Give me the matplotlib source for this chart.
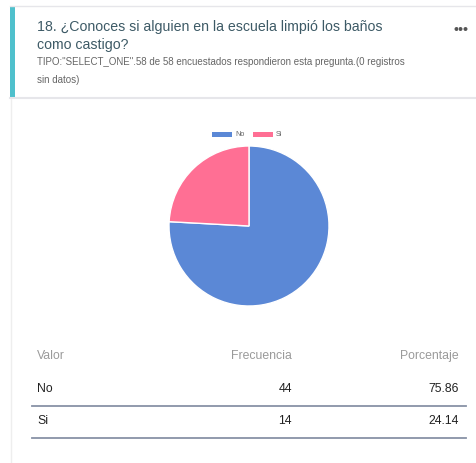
import matplotlib.pyplot as plt
from matplotlib.patches import Rectangle

# datos de la pregunta
labels = ['No', 'Si']
freq = [44, 14]
pct = ['75.86', '24.14']
colors = ['#5b88d6', '#ff6f94']

W, H = 476, 463
fig = plt.figure(figsize=(W / 100, H / 100), dpi=100)
plt.rcParams['font.family'] = ['Liberation Sans', 'DejaVu Sans']

# capa de fondo en pixeles
bg = fig.add_axes([0, 0, 1, 1])
bg.set_xlim(0, W)
bg.set_ylim(H, 0)
bg.axis('off')

# tarjeta del encabezado
bg.plot([10, W], [6, 6], color='#e6e6ea', lw=1)
bg.plot([10, W], [98, 98], color='#e6e6ea', lw=1.5)
bg.add_patch(Rectangle((10, 6), 4.5, 93, color='#4fc0cc', lw=0))
bg.plot([10.5, 10.5], [99, H], color='#eeeeee', lw=1)

bg.text(37, 27, '18. ¿Conoces si alguien en la escuela limpió los baños',
        fontsize=10.2, color='#3d5a66', va='center')
bg.text(37, 45, 'como castigo?', fontsize=10.2, color='#3d5a66', va='center')
bg.text(37, 62, 'TIPO:"SELECT_ONE".58 de 58 encuestados respondieron esta pregunta.(0 registros',
        fontsize=7.05, color='#666666', va='center')
bg.text(37, 80, 'sin datos)', fontsize=7.05, color='#666666', va='center')
bg.text(461, 30, '•••', fontsize=10, color='#555555', va='center', ha='center',
        fontweight='bold')

# leyenda
for i, (lab, c) in enumerate(zip(labels, colors)):
    x0 = 212 + i * 41
    bg.add_patch(Rectangle((x0, 131.5), 20, 5, color=c, lw=0))
    bg.text(x0 + 23, 134, lab, fontsize=5.2, color='#666666', va='center')

# tabla
bg.text(37, 356, 'Valor', fontsize=8.8, color='#9a9a9a', va='center')
bg.text(292, 356, 'Frecuencia', fontsize=8.8, color='#9a9a9a', va='center', ha='right')
bg.text(459, 356, 'Porcentaje', fontsize=8.8, color='#9a9a9a', va='center', ha='right')
rows_y = [389, 421]
for y, lab, f, p in zip(rows_y, labels, freq, pct):
    bg.text(37, y, lab, fontsize=8.8, color='#222222', va='center')
    bg.text(292, y, str(f), fontsize=8.8, color='#222222', va='center', ha='right')
    bg.text(459, y, p, fontsize=8.8, color='#222222', va='center', ha='right')
    bg.plot([32, 466], [y + 17, y + 17], color='#8892a6', lw=1.3)

# pastel
ax = fig.add_axes([169 / W, (H - 306) / H, 160 / W, 160 / H])
ax.pie(freq, colors=colors, startangle=90, counterclock=False,
       wedgeprops=dict(edgecolor='white', linewidth=1))
ax.set_xlim(-1, 1)
ax.set_ylim(-1, 1)
ax.set_aspect('equal')

fig.savefig('out.png', dpi=100)
